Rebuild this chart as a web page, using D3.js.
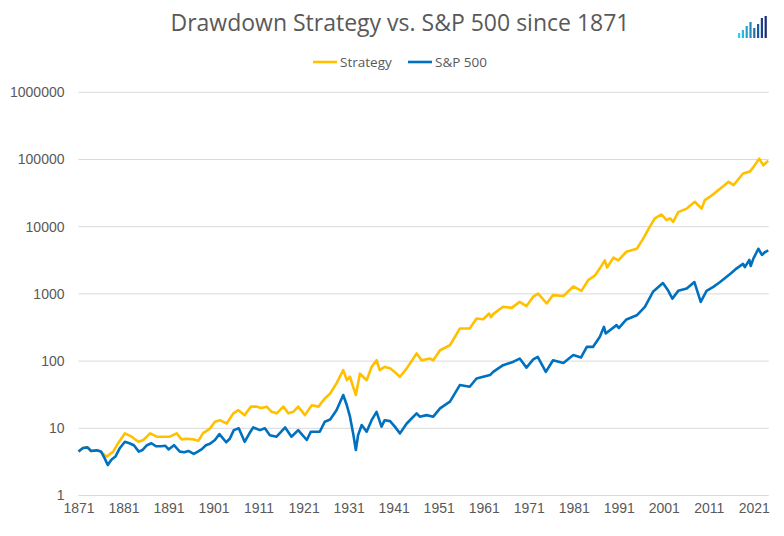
<!DOCTYPE html>
<html lang="en">
<head>
<meta charset="UTF-8">
<title>Drawdown Strategy vs. S&P 500 since 1871</title>
<script src="https://d3js.org/d3.v7.min.js"></script>
<style>
    body { margin: 0; background: #fff; }
    svg { display: block; }
    .tick text { fill: #595959; font-family: "Liberation Sans", Arial, sans-serif; font-size: 14px; }
</style>
</head>
<body>
<svg id="chart" width="784" height="536"></svg>
<script>
// S&P 500 (log growth index)
const spYears = [1871.0, 1872.0, 1873.0, 1873.8, 1875.0, 1876.0, 1876.8, 1877.5, 1878.3, 1879.2,
    1880.2, 1881.3, 1882.3, 1883.3, 1884.4, 1885.2, 1886.2, 1887.2, 1888.2, 1889.3,
    1890.3, 1891.0, 1892.2, 1893.5, 1894.5, 1895.4, 1896.6, 1897.5, 1898.4, 1899.3,
    1900.2, 1901.3, 1902.3, 1903.8, 1904.6, 1905.5, 1906.6, 1907.9, 1909.0, 1909.8,
    1911.3, 1912.4, 1913.5, 1915.0, 1916.9, 1918.3, 1919.8, 1921.7, 1922.6, 1924.6,
    1925.7, 1926.9, 1928.3, 1929.8, 1930.6, 1931.3, 1932.0, 1932.6, 1933.1, 1933.9,
    1935.0, 1936.1, 1937.2, 1938.3, 1939.0, 1940.2, 1941.3, 1942.4, 1943.9, 1946.1,
    1946.8, 1948.3, 1949.8, 1951.3, 1953.5, 1955.7, 1957.9, 1959.4, 1960.9, 1962.4,
    1963.1, 1965.3, 1967.6, 1969.0, 1970.5, 1972.0, 1973.0, 1974.8, 1976.4, 1978.7,
    1980.9, 1982.6, 1983.9, 1985.3, 1986.8, 1987.7, 1988.1, 1990.5, 1991.0, 1992.7,
    1995.0, 1996.8, 1998.6, 2000.8, 2002.0, 2002.9, 2004.2, 2006.1, 2007.8, 2009.2,
    2010.5, 2012.0, 2013.5, 2015.8, 2017.2, 2018.6, 2019.0, 2020.0, 2020.3, 2020.9,
    2022.0, 2022.8, 2023.5, 2024.2];
const spValues = [4.5, 5.1, 5.2, 4.6, 4.7, 4.5, 3.6, 2.84, 3.4, 3.8,
    5.1, 6.3, 6.0, 5.6, 4.5, 4.75, 5.6, 6.0, 5.4, 5.4,
    5.5, 4.85, 5.6, 4.5, 4.4, 4.6, 4.15, 4.5, 4.9, 5.6,
    5.9, 6.7, 8.2, 6.2, 7.0, 9.4, 10.0, 6.3, 8.5, 10.3,
    9.4, 10.0, 7.9, 7.5, 10.3, 7.5, 9.4, 6.7, 8.9, 8.9,
    12.5, 13.5, 18.6, 31.3, 22, 14.9, 8.4, 4.75, 7.9, 11.2,
    8.9, 13.2, 17.6, 10.6, 13.2, 12.8, 10.5, 8.4, 11.8, 16.7,
    14.9, 15.7, 14.9, 19.8, 24.9, 44, 41.5, 55, 58.5, 62,
    69, 87, 98, 109, 80, 106, 116, 69, 103, 94,
    123, 113, 163, 163, 230, 323, 258, 343, 310, 417,
    480, 643, 1075, 1450, 1110, 850, 1110, 1200, 1500, 760,
    1110, 1270, 1500, 2000, 2400, 2800, 2500, 3200, 2600, 3350,
    4700, 3800, 4200, 4460];

// Drawdown strategy
const stratYears = [1871.0, 1872.0, 1873.0, 1873.8, 1875.0, 1876.0, 1876.8, 1877.3, 1878.7, 1879.8,
    1881.3, 1882.8, 1884.3, 1885.4, 1886.9, 1888.4, 1889.8, 1891.3, 1892.8, 1893.9,
    1895.0, 1896.5, 1897.6, 1898.7, 1900.2, 1901.3, 1902.4, 1903.9, 1905.4, 1906.5,
    1907.9, 1909.3, 1910.6, 1911.6, 1912.8, 1913.9, 1915.0, 1916.5, 1917.6, 1918.7,
    1919.8, 1921.3, 1922.8, 1924.3, 1925.7, 1926.9, 1928.3, 1929.8, 1930.6, 1931.3,
    1932.0, 1932.6, 1933.5, 1934.2, 1935.0, 1936.1, 1937.2, 1937.9, 1939.0, 1940.2,
    1941.3, 1942.4, 1943.9, 1946.1, 1947.2, 1949.1, 1949.8, 1951.3, 1953.5, 1955.7,
    1957.9, 1959.4, 1960.9, 1962.2, 1962.6, 1963.1, 1965.3, 1967.2, 1969.0, 1970.5,
    1972.0, 1973.1, 1975.0, 1976.4, 1978.7, 1980.9, 1982.7, 1984.2, 1985.7, 1986.8,
    1987.9, 1988.4, 1989.8, 1990.9, 1992.7, 1995.0, 1996.4, 1997.9, 1999.0, 2000.5,
    2001.6, 2002.4, 2003.1, 2004.2, 2006.1, 2007.9, 2009.4, 2010.1, 2011.6, 2013.5,
    2015.4, 2016.5, 2018.6, 2020.1, 2020.9, 2022.2, 2023.1, 2024.2];
const stratValues = [4.5, 5.1, 5.2, 4.6, 4.7, 4.5, 4.0, 3.8, 4.5, 6.0,
    8.4, 7.5, 6.3, 6.7, 8.4, 7.5, 7.5, 7.5, 8.4, 6.85,
    7.0, 6.85, 6.5, 8.5, 9.9, 12.5, 13.2, 11.8, 16.7, 18.6,
    15.7, 21, 21, 20, 21, 17.6, 16.7, 21, 16.7, 17.6,
    21, 15.7, 22, 21, 27.8, 33, 46.6, 73.5, 52, 58.5,
    41.5, 31.3, 65, 58.5, 52, 82, 103, 73.5, 82, 78,
    68, 58.5, 78, 130, 103, 109, 103, 145, 172, 305,
    305, 430, 420, 510, 450, 500, 643, 620, 760, 660,
    910, 1010, 720, 960, 930, 1290, 1110, 1600, 1880, 2400,
    3160, 2470, 3460, 3160, 4240, 4700, 6600, 10000, 13300, 15200,
    12500, 13300, 11800, 16500, 18600, 23500, 18600, 24800, 29000, 36700,
    46500, 41500, 62000, 66000, 77000, 103000, 82000, 96000];

const yTicks = [1, 10, 100, 1000, 10000, 100000, 1000000];
const xTicks = [1871, 1881, 1891, 1901, 1911, 1921, 1931, 1941, 1951, 1961, 1971, 1981, 1991, 2001, 2011, 2021];

const seriesNames = ["Strategy", "S&P 500"];
const seriesColors = ["#FFC000", "#0070C0"];

const svg = d3.select("#chart");
const plotLeft = 78.5, plotRight = 768.7, plotTop = 92.3, plotBottom = 495.5;

const x = d3.scaleLinear().domain([1871, 2024.3]).range([plotLeft, plotRight]);
const y = d3.scaleLog().domain([1, 1000000]).range([plotBottom, plotTop]);

// gridlines
svg.append("g")
    .selectAll("line")
    .data(yTicks)
    .join("line")
    .attr("x1", plotLeft)
    .attr("x2", plotRight)
    .attr("y1", d => y(d))
    .attr("y2", d => y(d))
    .attr("stroke", "#d9d9d9")
    .attr("stroke-width", 1);

// y axis labels
const yAxis = svg.append("g")
    .attr("transform", `translate(${plotLeft - 14},0)`)
    .call(d3.axisLeft(y).tickValues(yTicks).tickFormat(d3.format("d")).tickSize(0).tickPadding(0));
yAxis.select(".domain").remove();

// x axis labels
const xAxis = svg.append("g")
    .attr("transform", `translate(0,${plotBottom + 8})`)
    .call(d3.axisBottom(x).tickValues(xTicks).tickFormat(d3.format("d")).tickSize(0).tickPadding(0));
xAxis.select(".domain").remove();
xAxis.selectAll("text").attr("dy", "0.71em");

const line = d3.line()
    .x(d => x(d[0]))
    .y(d => y(d[1]));

const stratData = d3.zip(stratYears, stratValues);
const spData = d3.zip(spYears, spValues);

svg.append("path")
    .datum(stratData)
    .attr("d", line)
    .attr("fill", "none")
    .attr("stroke", seriesColors[0])
    .attr("stroke-width", 2.6)
    .attr("stroke-linejoin", "round");

svg.append("path")
    .datum(spData)
    .attr("d", line)
    .attr("fill", "none")
    .attr("stroke", seriesColors[1])
    .attr("stroke-width", 2.6)
    .attr("stroke-linejoin", "round");

// title
svg.append("text")
    .attr("x", 400)
    .attr("y", 31)
    .attr("text-anchor", "middle")
    .style("font-family", "'Open Sans', sans-serif")
    .style("font-size", "23px")
    .style("fill", "#595959")
    .text("Drawdown Strategy vs. S&P 500 since 1871");

// legend
const legendX = [313, 408];
const legend = svg.append("g");
seriesNames.forEach((name, i) => {
    legend.append("line")
        .attr("x1", legendX[i])
        .attr("x2", legendX[i] + 24)
        .attr("y1", 62)
        .attr("y2", 62)
        .attr("stroke", seriesColors[i])
        .attr("stroke-width", 2.6);
    legend.append("text")
        .attr("x", legendX[i] + 27)
        .attr("y", 66.5)
        .style("font-family", "'Open Sans', sans-serif")
        .style("font-size", "13.5px")
        .style("fill", "#595959")
        .text(name);
});

// small logo top right
const logoBars = [5, 8, 12, 16, 10, 14, 20, 22];
const logoColor = d3.scaleLinear().domain([0, logoBars.length - 1]).range(["#22d3f5", "#1a2a7a"]);
svg.append("g")
    .selectAll("rect")
    .data(logoBars)
    .join("rect")
    .attr("x", (d, i) => 738 + i * 3.8)
    .attr("y", d => 38 - d)
    .attr("width", 2.2)
    .attr("height", d => d)
    .attr("fill", (d, i) => logoColor(i));
</script>
</body>
</html>
